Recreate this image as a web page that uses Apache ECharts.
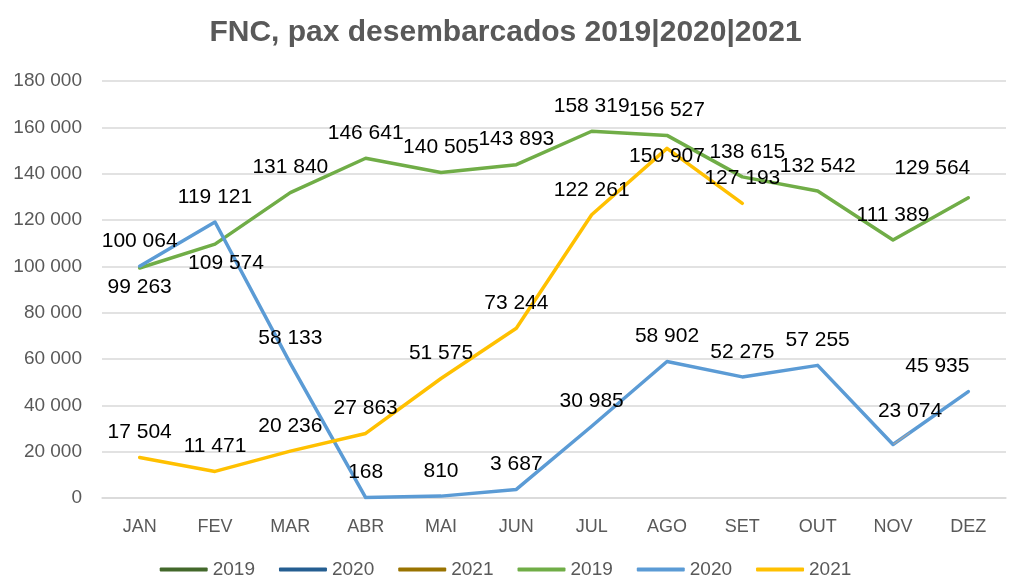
<!DOCTYPE html>
<html>
<head>
<meta charset="utf-8">
<script src="https://cdn.jsdelivr.net/npm/echarts@6/dist/echarts.min.js"></script>
<style>
  html, body { margin: 0; padding: 0; background: #fff; }
  #chart { width: 1011px; height: 584px; }
</style>
</head>
<body>
<div id="chart"></div>
<script>
const months = ["JAN", "FEV", "MAR", "ABR", "MAI", "JUN", "JUL", "AGO", "SET", "OUT", "NOV", "DEZ"];
const pax2019 = [99263, 109574, 131840, 146641, 140505, 143893, 158319, 156527, 138615, 132542, 111389, 129564];
const pax2020 = [100064, 119121, 58133, 168, 810, 3687, 30985, 58902, 52275, 57255, 23074, 45935];
const pax2021 = [17504, 11471, 20236, 27863, 51575, 73244, 122261, 150907, 127193];
const legendNames = ["2019", "2020", "2021"];

const font = "Liberation Sans";

function fmt(v) {
  return String(v).replace(/\B(?=(\d{3})+(?!\d))/g, " ");
}

// per-point label tweaks (index -> label opts)
const tweak2019 = {
  0: { position: "bottom", distance: 8 },
  1: { position: "bottom", distance: 8, offset: [11, 0] },
  8: { offset: [5, 0] },
  11: { offset: [-36, -5] }
};
const tweak2020 = {
  10: { offset: [17, -8] },
  11: { offset: [-31, 0] }
};
const tweak2021 = {
  7: { offset: [0, 33] }
};

function points(values, tweaks) {
  return values.map((v, i) => {
    if (tweaks[i]) return { value: v, label: tweaks[i] };
    return v;
  });
}

function lineSeries(name, color, values, tweaks) {
  return {
    name: name,
    type: "line",
    data: points(values, tweaks),
    symbol: "circle",
    symbolSize: 1,
    showSymbol: true,
    itemStyle: { color: color },
    lineStyle: { color: color, width: 3.5, cap: "round", join: "round" },
    label: {
      show: true,
      position: "top",
      distance: 14,
      formatter: p => fmt(p.value),
      color: "#000",
      fontFamily: font,
      fontSize: 21
    },
    emphasis: { disabled: true },
    z: 3
  };
}

function dummy(name, color) {
  return {
    name: name,
    type: "line",
    data: [],
    itemStyle: { color: color },
    lineStyle: { color: color, width: 4 }
  };
}

const chart = echarts.init(document.getElementById("chart"), null, { renderer: "canvas" });

const series2020 = lineSeries(legendNames[1], "#5B9BD5", pax2020, tweak2020);
// small leader line for the NOV label
series2020.data[10].labelLine = { show: true, lineStyle: { color: "#a6a6a6", width: 1.2 } };

const option = {
  animation: false,
  title: {
    text: "FNC, pax desembarcados 2019|2020|2021",
    left: "center",
    top: 13,
    textStyle: { color: "#595959", fontFamily: font, fontSize: 30, fontWeight: "bold" }
  },
  grid: { left: 102, right: 5, top: 81, bottom: 86 },
  legend: {
    bottom: 0,
    left: "center",
    icon: "roundRect",
    itemWidth: 48,
    itemHeight: 4,
    itemGap: 24,
    textStyle: { color: "#595959", fontFamily: font, fontSize: 19 },
    formatter: n => n.slice(0, 4),
    data: ["2019 a", "2020 a", "2021 a", "2019", "2020", "2021"]
  },
  xAxis: {
    type: "category",
    data: months,
    boundaryGap: true,
    axisTick: { show: false },
    axisLine: { lineStyle: { color: "#d9d9d9", width: 1.5 } },
    axisLabel: { color: "#595959", fontFamily: font, fontSize: 18, margin: 20 }
  },
  yAxis: {
    type: "value",
    min: 0,
    max: 180000,
    interval: 20000,
    axisLine: { show: false },
    axisTick: { show: false },
    splitLine: { lineStyle: { color: "#d9d9d9", width: 1.5 } },
    axisLabel: { color: "#595959", fontFamily: font, fontSize: 19, margin: 20, formatter: v => fmt(v) }
  },
  series: [
    dummy("2019 a", "#43682B"),
    dummy("2020 a", "#255E91"),
    dummy("2021 a", "#997300"),
    lineSeries(legendNames[0], "#70AD47", pax2019, tweak2019),
    series2020,
    lineSeries(legendNames[2], "#FFC000", pax2021, tweak2021)
  ]
};

chart.setOption(option);
</script>
</body>
</html>
